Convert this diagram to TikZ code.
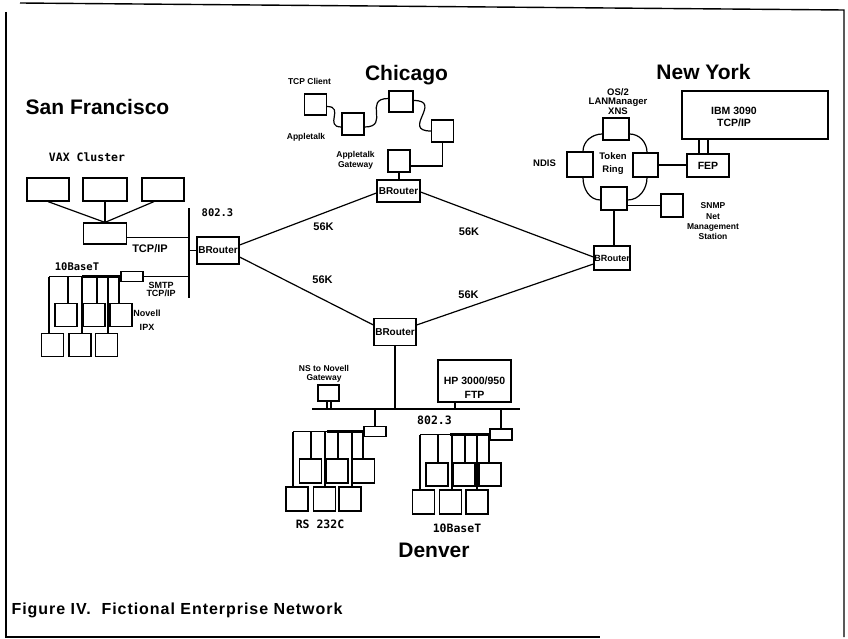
\documentclass[tikz,border=0pt]{standalone}
\usepackage{fontspec}
\setmainfont{Liberation Sans}
\setmonofont{DejaVu Sans Mono}
\usetikzlibrary{calc}

\tikzset{
  box/.style={draw, line width=1.2pt, inner sep=0pt, minimum width=22, minimum height=23},
  ttl/.style={inner sep=0pt, font=\bfseries\fontsize{21}{24}\selectfont},
  mono/.style={inner sep=0pt, font=\ttfamily\bfseries\fontsize{11.5}{13}\selectfont},
  lbl/.style={inner sep=0pt, align=center, font=\bfseries\fontsize{9}{10}\selectfont},
  small/.style={inner sep=0pt, align=center, font=\bfseries\fontsize{8.5}{9.5}\selectfont},
  mid/.style={inner sep=0pt, align=center, font=\bfseries\fontsize{10.5}{12}\selectfont},
  rt/.style={font=\bfseries\fontsize{10}{11}\selectfont},
  speed/.style={inner sep=0pt, font=\bfseries\fontsize{11}{12}\selectfont},
  thickbus/.style={line width=3pt},
}
% vertical drop from a hub line to the top of a station box
\newcommand\netdrop[3]{\draw (#1,0 |- #2) -- (#1,0 |- #3.north);}

\begin{document}
\begin{tikzpicture}[x=1pt,y=-1pt,line width=1.2pt]
\useasboundingbox (0,0) rectangle (848,639);

% page frame
\draw[line width=1.4pt] (20,3) -- (844,10) -- (844,637);
\draw[line width=1.4pt] (6,12) -- (6,637) -- (600,637);

% ---------------- San Francisco ----------------
\node[ttl] (tSF) at (97.5,107) {San Francisco};
\node[mono] (tVAX) at (87,157) {VAX Cluster};
\node[box, minimum width=42] (vax1) at (48,189.5) {};
\node[box, minimum width=44] (vax2) at (105,189.5) {};
\node[box, minimum width=42] (vax3) at (163,189.5) {};
\node[box, minimum width=43, minimum height=21] (vaxc) at (105,233.5) {};
\draw (vax1.south) -- (vaxc.north);
\draw (vax2.south) -- (vaxc.north);
\draw ($(vax3.south)+(-9,0)$) -- (vaxc.north);

\coordinate (sfTop) at (189,208);
\coordinate (sfBot) at (189,298);
\draw (sfTop) -- (sfBot);
\node[mono, font=\ttfamily\bfseries\fontsize{10.5}{12}\selectfont] (t8023a) at (217.5,213) {802.3};
\coordinate (vx) at ($(vaxc.east)+(0,4)$);
\draw (vx) -- (vx -| sfTop);
\node[speed] (tTCPa) at (150,249) {TCP/IP};

\node[box, rt, minimum width=42, minimum height=27] (brSF) at (218,250.5) {BRouter};
\draw (brSF.west) -- (brSF.west -| sfTop);

\node[mono, font=\ttfamily\bfseries\fontsize{10.5}{12}\selectfont] (t10a) at (77,267) {10BaseT};
\node[box, minimum width=22, minimum height=10] (hubSF) at (132,276.5) {};
\draw (hubSF.east) -- (hubSF.east -| sfTop);
\draw (49,0 |- hubSF.west) -- (hubSF.west);
\draw[thickbus] (82,0 |- hubSF.west) -- (hubSF.west);
\node[lbl, font=\bfseries\fontsize{9}{7.5}\selectfont] (tSMTP) at (161,289.5) {SMTP\\TCP/IP};
\node[lbl, font=\bfseries\fontsize{9}{14}\selectfont] (tIPX) at (147,320) {Novell\\IPX};

\node[box] (st1) at (66,315) {};
\node[box] (st2) at (94,315) {};
\node[box] (st3) at (121,315) {};
\node[box] (sb1) at (52.5,345) {};
\node[box] (sb2) at (80,345) {};
\node[box] (sb3) at (106.5,345) {};
\netdrop{49}{hubSF.west}{sb1}
\netdrop{68}{hubSF.west}{st1}
\netdrop{82}{hubSF.west}{sb2}
\netdrop{97}{hubSF.west}{st2}
\netdrop{108}{hubSF.west}{sb3}
\netdrop{119}{hubSF.west}{st3}

% ---------------- Chicago ----------------
\node[ttl] (tCH) at (406.5,75) {Chicago};
\node[small] (tTCPc) at (309.5,81) {TCP Client};
\node[small] (tAT) at (306,137) {Appletalk};
\node[small] (tATG) at (355.5,160.5) {Appletalk\\Gateway};
\node[box, minimum height=21] (tc1) at (315.5,104.5) {};
\node[box, minimum height=22] (tc2) at (353,124) {};
\node[box, minimum width=24, minimum height=21] (tc3) at (401,101.5) {};
\node[box, minimum height=22] (tc4) at (442.5,131) {};
\node[box, minimum height=22] (gw) at (399,161) {};
\node[box, rt, minimum width=43, minimum height=22] (brCH) at (398.5,191) {BRouter};
\draw ($(tc1.east)+(0,2)$) to[out=0,in=180,looseness=1.8] ($(tc2.west)+(0,3)$);
\draw ($(tc2.east)+(0,3)$) to[out=0,in=180,looseness=1.8] ($(tc3.west)+(0,-3)$);
\draw ($(tc3.east)+(0,-1)$) to[out=0,in=180,looseness=2.2] (tc4.west);
\draw (tc4.south) |- ($(gw.east)+(0,5)$);
\draw (gw.south) -- (gw.south |- brCH.north);

% ---------------- New York ----------------
\node[ttl] (tNY) at (703.5,72) {New York};
\node[box, minimum width=146, minimum height=48] (ibm) at (755,115) {};
\node[mid, font=\bfseries\fontsize{10.5}{12.5}\selectfont] (tIBM) at (734,117) {IBM 3090\\TCP/IP};
\node[box, mid, minimum width=42, minimum height=23] (fep) at (708,165.5) {FEP};
\draw (699,0 |- ibm.south) -- (699,0 |- fep.north);
\draw (708,0 |- ibm.south) -- (708,0 |- fep.north);

\node[box, minimum width=26, minimum height=22] (trT) at (616,129) {};
\node[box, minimum width=26, minimum height=25] (trL) at (580,164.5) {};
\node[box, minimum width=25, minimum height=24] (trR) at (645.5,165) {};
\node[box, minimum width=26, minimum height=23] (trB) at (614,198.5) {};
\draw ($(trT.west)+(0,5)$) to[out=180,in=90] ($(trL.north)+(3,0)$);
\draw ($(trT.east)+(0,5)$) to[out=0,in=90] ($(trR.north)+(1.5,0)$);
\draw ($(trL.south)+(3,0)$) to[out=-90,in=180] ($(trB.west)+(0,1.5)$);
\draw ($(trR.south)+(1.5,0)$) to[out=-90,in=0] ($(trB.east)+(0,1.5)$);
\node[lbl, font=\bfseries\fontsize{9.5}{9.5}\selectfont] (tOS2) at (618,101.5) {OS/2\\LANManager\\XNS};
\node[lbl, font=\bfseries\fontsize{9.5}{13}\selectfont] (tTR) at (613,163.5) {Token\\Ring};
\node[lbl, font=\bfseries\fontsize{9.5}{11}\selectfont] (tNDIS) at (544.5,163) {NDIS};
\draw (trR.east) -- (trR.east -| fep.west);

\node[box, minimum width=22, minimum height=23] (snmp) at (672,205.5) {};
\draw (trB.east |- snmp.west) -- (snmp.west);
\node[lbl, font=\bfseries\fontsize{8.5}{10.3}\selectfont] (tSNMP) at (713,221.5) {SNMP\\Net\\Management\\Station};

\node[box, font=\bfseries\fontsize{9}{10}\selectfont, minimum width=36, minimum height=24] (brNY) at (612,258) {BRouter};
\draw (trB.south) -- (trB.south |- brNY.north);

% ---------------- Denver ----------------
\node[box, rt, minimum width=42, minimum height=27] (brDN) at (395,332) {BRouter};
\coordinate (busL) at (312,409);
\coordinate (busR) at (520,409);
\draw (busL) -- (busR);
\draw (brDN.south) -- (brDN.south |- busL);

\node[small] (tNS) at (324,374) {NS to Novell\\Gateway};
\node[box, minimum width=21, minimum height=16] (nsgw) at (328.5,393) {};
\draw (327,0 |- nsgw.south) -- (327,0 |- busL);
\draw (331,0 |- nsgw.south) -- (331,0 |- busL);

\node[box, minimum width=73, minimum height=42] (hp) at (474.5,381) {};
\node[mid, font=\bfseries\fontsize{10.5}{14}\selectfont] (tHP) at (474.5,388) {HP 3000/950\\FTP};
\draw (455,0 |- hp.south) -- (455,0 |- busL);
\node[mono] (t8023b) at (434.5,420) {802.3};

% left station cluster
\node[box, minimum width=22, minimum height=10] (hubD1) at (375,431.5) {};
\draw (hubD1.north |- busL) -- (hubD1.north);
\draw (293,0 |- hubD1.west) -- (hubD1.west);
\draw[thickbus] (327,0 |- hubD1.west) -- (hubD1.west);
\node[box, minimum height=24] (dt1) at (310.5,471) {};
\node[box, minimum height=24] (dt2) at (337,471) {};
\node[box, minimum height=24] (dt3) at (363.5,471) {};
\node[box, minimum height=24] (db1) at (297,499) {};
\node[box, minimum height=24] (db2) at (324.5,499) {};
\node[box, minimum height=24] (db3) at (350,499) {};
\netdrop{293}{hubD1.west}{db1}
\netdrop{311}{hubD1.west}{dt1}
\netdrop{325}{hubD1.west}{db2}
\netdrop{338}{hubD1.west}{dt2}
\netdrop{352}{hubD1.west}{db3}
\netdrop{363}{hubD1.west}{dt3}
\node[mono] (tRS) at (320,524) {RS 232C};

% right station cluster
\node[box, minimum width=22, minimum height=11] (hubD2) at (501,434.5) {};
\draw (hubD2.north |- busL) -- (hubD2.north);
\draw (420,0 |- hubD2.west) -- (hubD2.west);
\draw[thickbus] (450,0 |- hubD2.west) -- (hubD2.west);
\node[box] (et1) at (437,474.5) {};
\node[box] (et2) at (464,474.5) {};
\node[box] (et3) at (490,474.5) {};
\node[box, minimum height=24] (eb1) at (423.5,502) {};
\node[box, minimum height=24] (eb2) at (450.5,502) {};
\node[box, minimum height=24] (eb3) at (477,502) {};
\netdrop{420}{hubD2.west}{eb1}
\netdrop{438}{hubD2.west}{et1}
\netdrop{452}{hubD2.west}{eb2}
\netdrop{465}{hubD2.west}{et2}
\netdrop{477}{hubD2.west}{eb3}
\netdrop{489}{hubD2.west}{et3}
\node[mono] (t10b) at (457,528) {10BaseT};

\node[ttl] (tDN) at (434,550) {Denver};

% ---------------- 56K wide-area links ----------------
\draw ($(brSF.east)+(0,-5.5)$) -- ($(brCH.west)+(0,2)$);
\draw ($(brSF.east)+(0,6.5)$) -- ($(brDN.west)+(0,-7)$);
\draw ($(brCH.east)+(0,1)$) -- ($(brNY.west)+(0,-1)$);
\draw ($(brDN.east)+(0,-7)$) -- ($(brNY.west)+(0,6)$);
\node[speed] (k1) at (323.5,227) {56K};
\node[speed] (k2) at (469,232) {56K};
\node[speed] (k3) at (322.5,280) {56K};
\node[speed] (k4) at (468.5,295) {56K};

% caption
\node[inner sep=0pt, anchor=west, font=\bfseries\fontsize{16}{18}\selectfont\addfontfeature{LetterSpace=6}] (cap) at (11,610) {Figure IV.\ \ Fictional Enterprise Network};
\end{tikzpicture}
\end{document}
